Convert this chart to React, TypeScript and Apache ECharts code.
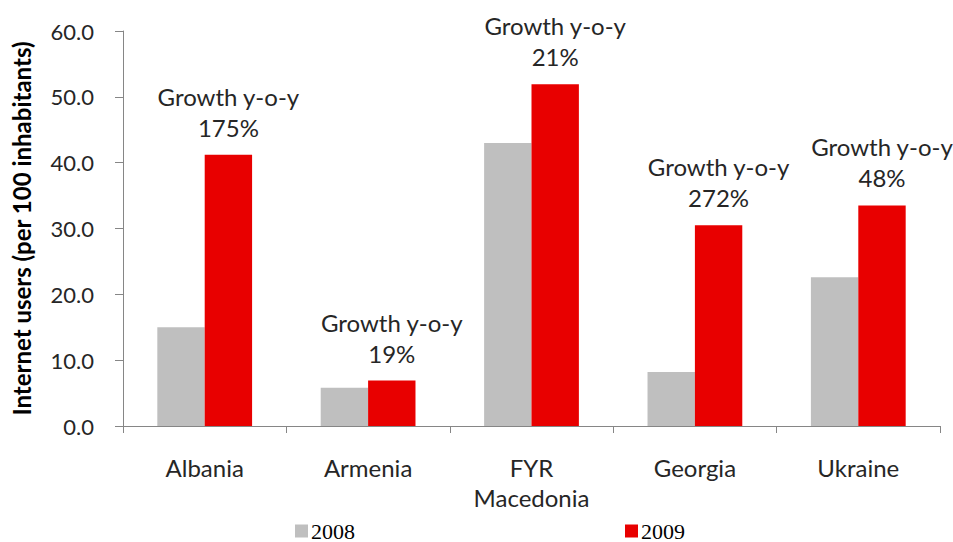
import React, { useEffect, useRef } from "react";
import * as echarts from "echarts";

const categories = ["Albania", "Armenia", "FYR\nMacedonia", "Georgia", "Ukraine"];
const values2008 = [15.0, 5.8, 43.0, 8.2, 22.6];
const values2009 = [41.2, 6.9, 51.9, 30.5, 33.5];
const growthPct = [175, 19, 21, 272, 48];
const yTicks = { min: 0, max: 60, interval: 10 };

const FONT = "Lato, 'Open Sans', sans-serif";
const SERIF = "'Liberation Serif', 'DejaVu Serif', serif";

export default function App() {
  const ref = useRef<HTMLDivElement>(null);
  useEffect(() => {
    if (!ref.current) return;
    const chart = echarts.init(ref.current, undefined, { renderer: "svg" });
    const legendCommon = {
      top: 520,
      padding: 0,
      itemWidth: 13,
      itemHeight: 13,
      itemGap: 5,
      icon: "rect",
      textStyle: { fontFamily: SERIF, fontSize: 22, color: "#000", padding: [0, 0, 0, -2] },
    };
    chart.setOption({
      animation: false,
      backgroundColor: "#ffffff",
      textStyle: { fontFamily: FONT },
      grid: { left: 123, right: 13, top: 31, bottom: 116, containLabel: false },
      legend: [
        { ...legendCommon, data: ["2008"], left: 295 },
        { ...legendCommon, data: ["2009"], left: 625 },
      ],
      xAxis: {
        type: "category",
        data: categories,
        axisLine: { lineStyle: { color: "#868686", width: 1 } },
        axisTick: { show: true, length: 7, lineStyle: { color: "#868686" } },
        axisLabel: { fontSize: 24, color: "#262626", margin: 26, lineHeight: 30, fontFamily: FONT },
      },
      yAxis: {
        type: "value",
        min: yTicks.min,
        max: yTicks.max,
        interval: yTicks.interval,
        name: "Internet users (per 100 inhabitants)",
        nameLocation: "middle",
        nameGap: 90,
        nameTextStyle: {
          fontSize: 24,
          fontWeight: "bold",
          color: "#000",
          fontFamily: FONT,
        },
        axisLine: { show: true, lineStyle: { color: "#868686", width: 1 } },
        axisTick: { show: true, length: 8, lineStyle: { color: "#868686" } },
        splitLine: { show: false },
        axisLabel: {
          fontSize: 22,
          color: "#262626",
          margin: 29,
          fontFamily: FONT,
          formatter: (v: number) => v.toFixed(1),
        },
      },
      series: [
        {
          name: "2008",
          type: "bar",
          data: values2008,
          barGap: "0%",
          barCategoryGap: "42%",
          itemStyle: { color: "#bfbfbf" },
        },
        {
          name: "2009",
          type: "bar",
          data: values2009,
          barGap: "0%",
          barCategoryGap: "42%",
          itemStyle: { color: "#e80000" },
          label: {
            show: true,
            position: "top",
            distance: 12,
            fontSize: 24,
            lineHeight: 31,
            color: "#262626",
            fontFamily: FONT,
            formatter: (p: any) => `Growth y-o-y\n${growthPct[p.dataIndex]}%`,
          },
        },
      ],
    });
    return () => chart.dispose();
  }, []);
  return (
    <div
      ref={ref}
      style={{ position: "fixed", left: 0, top: 0, width: 953, height: 542 }}
    />
  );
}
